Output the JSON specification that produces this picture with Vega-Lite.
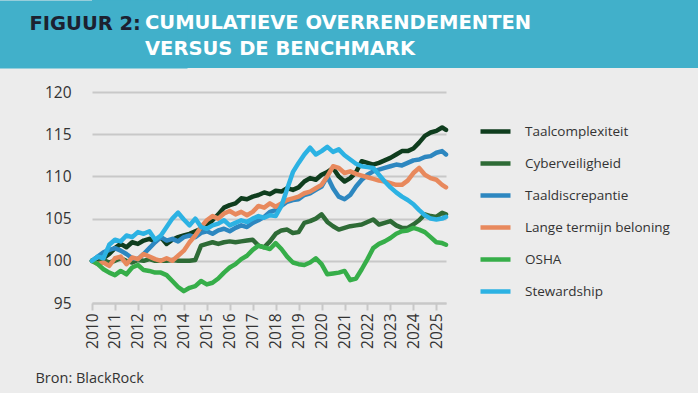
{
"$schema": "https://vega.github.io/schema/vega-lite/v6.json",
"background": "#ececec",
"padding": {"left": 0, "top": 0, "right": 0, "bottom": 8},
"spacing": 17,
"resolve": {"legend": {"color": "independent"}},
"config": {"view": {"stroke": null}},
"vconcat": [
{
"width": 606, "height": 68,
"view": {"fill": "#41b0ca", "stroke": null},
"data": {"values": []},
"mark": "point",
"encoding": {"y": {"field": "v", "type": "quantitative", "scale": {"domain": [0, 1]},
"axis": {"domainWidth": 190, "domainColor": "#41b0ca", "domainCap": "butt", "ticks": false, "labels": false, "grid": false,
"title": "FIGUUR 2:", "titleAngle": 0, "titleX": -63, "titleY": 29, "titleAlign": "left", "titleBaseline": "alphabetic", "titleColor": "#1c2130", "titleFont": "DejaVu Sans", "titleFontWeight": "bold", "titleFontSize": 19.5}}},
"title": {"text": ["CUMULATIEVE OVERRENDEMENTEN", "VERSUS DE BENCHMARK"], "orient": "bottom", "anchor": "start", "frame": "group", "offset": -39, "dx": 53, "baseline": "alphabetic", "lineHeight": 26, "color": "#ffffff", "font": "DejaVu Sans", "fontWeight": "bold", "fontSize": 19.5}
},
{
"width": 354, "height": 211,
"data": {"values": [
{"reeks":"Taalcomplexiteit","jaar":2010,"waarde":100.0},
{"reeks":"Taalcomplexiteit","jaar":2010.25,"waarde":99.8},
{"reeks":"Taalcomplexiteit","jaar":2010.5,"waarde":100.3},
{"reeks":"Taalcomplexiteit","jaar":2010.75,"waarde":100.8},
{"reeks":"Taalcomplexiteit","jaar":2011,"waarde":101.5},
{"reeks":"Taalcomplexiteit","jaar":2011.25,"waarde":102.0},
{"reeks":"Taalcomplexiteit","jaar":2011.5,"waarde":101.6},
{"reeks":"Taalcomplexiteit","jaar":2011.75,"waarde":102.2},
{"reeks":"Taalcomplexiteit","jaar":2012,"waarde":102.0},
{"reeks":"Taalcomplexiteit","jaar":2012.25,"waarde":102.4},
{"reeks":"Taalcomplexiteit","jaar":2012.5,"waarde":102.6},
{"reeks":"Taalcomplexiteit","jaar":2012.75,"waarde":102.3},
{"reeks":"Taalcomplexiteit","jaar":2013,"waarde":102.8},
{"reeks":"Taalcomplexiteit","jaar":2013.25,"waarde":102.0},
{"reeks":"Taalcomplexiteit","jaar":2013.5,"waarde":102.5},
{"reeks":"Taalcomplexiteit","jaar":2013.75,"waarde":102.8},
{"reeks":"Taalcomplexiteit","jaar":2014,"waarde":103.0},
{"reeks":"Taalcomplexiteit","jaar":2014.25,"waarde":103.2},
{"reeks":"Taalcomplexiteit","jaar":2014.5,"waarde":103.5},
{"reeks":"Taalcomplexiteit","jaar":2014.75,"waarde":103.8},
{"reeks":"Taalcomplexiteit","jaar":2015,"waarde":104.2},
{"reeks":"Taalcomplexiteit","jaar":2015.25,"waarde":104.8},
{"reeks":"Taalcomplexiteit","jaar":2015.5,"waarde":105.5},
{"reeks":"Taalcomplexiteit","jaar":2015.75,"waarde":106.3},
{"reeks":"Taalcomplexiteit","jaar":2016,"waarde":106.6},
{"reeks":"Taalcomplexiteit","jaar":2016.25,"waarde":106.8},
{"reeks":"Taalcomplexiteit","jaar":2016.5,"waarde":107.4},
{"reeks":"Taalcomplexiteit","jaar":2016.75,"waarde":107.3},
{"reeks":"Taalcomplexiteit","jaar":2017,"waarde":107.6},
{"reeks":"Taalcomplexiteit","jaar":2017.25,"waarde":107.8},
{"reeks":"Taalcomplexiteit","jaar":2017.5,"waarde":108.1},
{"reeks":"Taalcomplexiteit","jaar":2017.75,"waarde":107.9},
{"reeks":"Taalcomplexiteit","jaar":2018,"waarde":108.3},
{"reeks":"Taalcomplexiteit","jaar":2018.25,"waarde":108.2},
{"reeks":"Taalcomplexiteit","jaar":2018.5,"waarde":108.6},
{"reeks":"Taalcomplexiteit","jaar":2018.75,"waarde":108.4},
{"reeks":"Taalcomplexiteit","jaar":2019,"waarde":108.7},
{"reeks":"Taalcomplexiteit","jaar":2019.25,"waarde":109.4},
{"reeks":"Taalcomplexiteit","jaar":2019.5,"waarde":109.8},
{"reeks":"Taalcomplexiteit","jaar":2019.75,"waarde":109.6},
{"reeks":"Taalcomplexiteit","jaar":2020,"waarde":110.2},
{"reeks":"Taalcomplexiteit","jaar":2020.25,"waarde":110.5},
{"reeks":"Taalcomplexiteit","jaar":2020.5,"waarde":111.0},
{"reeks":"Taalcomplexiteit","jaar":2020.75,"waarde":110.0},
{"reeks":"Taalcomplexiteit","jaar":2021,"waarde":109.4},
{"reeks":"Taalcomplexiteit","jaar":2021.25,"waarde":109.8},
{"reeks":"Taalcomplexiteit","jaar":2021.5,"waarde":110.5},
{"reeks":"Taalcomplexiteit","jaar":2021.75,"waarde":111.8},
{"reeks":"Taalcomplexiteit","jaar":2022,"waarde":111.6},
{"reeks":"Taalcomplexiteit","jaar":2022.25,"waarde":111.4},
{"reeks":"Taalcomplexiteit","jaar":2022.5,"waarde":111.6},
{"reeks":"Taalcomplexiteit","jaar":2022.75,"waarde":111.9},
{"reeks":"Taalcomplexiteit","jaar":2023,"waarde":112.2},
{"reeks":"Taalcomplexiteit","jaar":2023.25,"waarde":112.6},
{"reeks":"Taalcomplexiteit","jaar":2023.5,"waarde":113.0},
{"reeks":"Taalcomplexiteit","jaar":2023.75,"waarde":113.0},
{"reeks":"Taalcomplexiteit","jaar":2024,"waarde":113.3},
{"reeks":"Taalcomplexiteit","jaar":2024.25,"waarde":114.0},
{"reeks":"Taalcomplexiteit","jaar":2024.5,"waarde":114.8},
{"reeks":"Taalcomplexiteit","jaar":2024.75,"waarde":115.2},
{"reeks":"Taalcomplexiteit","jaar":2025,"waarde":115.4},
{"reeks":"Taalcomplexiteit","jaar":2025.25,"waarde":115.8},
{"reeks":"Taalcomplexiteit","jaar":2025.42,"waarde":115.5},
{"reeks":"Cyberveiligheid","jaar":2010,"waarde":100.0},
{"reeks":"Cyberveiligheid","jaar":2010.25,"waarde":99.7},
{"reeks":"Cyberveiligheid","jaar":2010.5,"waarde":100.1},
{"reeks":"Cyberveiligheid","jaar":2010.75,"waarde":99.8},
{"reeks":"Cyberveiligheid","jaar":2011,"waarde":100.0},
{"reeks":"Cyberveiligheid","jaar":2011.25,"waarde":100.3},
{"reeks":"Cyberveiligheid","jaar":2011.5,"waarde":100.0},
{"reeks":"Cyberveiligheid","jaar":2011.75,"waarde":99.8},
{"reeks":"Cyberveiligheid","jaar":2012,"waarde":100.1},
{"reeks":"Cyberveiligheid","jaar":2012.25,"waarde":100.0},
{"reeks":"Cyberveiligheid","jaar":2012.5,"waarde":100.2},
{"reeks":"Cyberveiligheid","jaar":2012.75,"waarde":100.0},
{"reeks":"Cyberveiligheid","jaar":2013,"waarde":100.0},
{"reeks":"Cyberveiligheid","jaar":2013.25,"waarde":100.0},
{"reeks":"Cyberveiligheid","jaar":2013.5,"waarde":100.1},
{"reeks":"Cyberveiligheid","jaar":2013.75,"waarde":100.0},
{"reeks":"Cyberveiligheid","jaar":2014,"waarde":100.0},
{"reeks":"Cyberveiligheid","jaar":2014.25,"waarde":100.0},
{"reeks":"Cyberveiligheid","jaar":2014.5,"waarde":100.1},
{"reeks":"Cyberveiligheid","jaar":2014.75,"waarde":101.8},
{"reeks":"Cyberveiligheid","jaar":2015,"waarde":102.0},
{"reeks":"Cyberveiligheid","jaar":2015.25,"waarde":102.2},
{"reeks":"Cyberveiligheid","jaar":2015.5,"waarde":102.0},
{"reeks":"Cyberveiligheid","jaar":2015.75,"waarde":102.2},
{"reeks":"Cyberveiligheid","jaar":2016,"waarde":102.3},
{"reeks":"Cyberveiligheid","jaar":2016.25,"waarde":102.2},
{"reeks":"Cyberveiligheid","jaar":2016.5,"waarde":102.3},
{"reeks":"Cyberveiligheid","jaar":2016.75,"waarde":102.4},
{"reeks":"Cyberveiligheid","jaar":2017,"waarde":102.5},
{"reeks":"Cyberveiligheid","jaar":2017.25,"waarde":101.8},
{"reeks":"Cyberveiligheid","jaar":2017.5,"waarde":101.6},
{"reeks":"Cyberveiligheid","jaar":2017.75,"waarde":102.3},
{"reeks":"Cyberveiligheid","jaar":2018,"waarde":103.2},
{"reeks":"Cyberveiligheid","jaar":2018.25,"waarde":103.6},
{"reeks":"Cyberveiligheid","jaar":2018.5,"waarde":103.7},
{"reeks":"Cyberveiligheid","jaar":2018.75,"waarde":103.3},
{"reeks":"Cyberveiligheid","jaar":2019,"waarde":103.4},
{"reeks":"Cyberveiligheid","jaar":2019.25,"waarde":104.5},
{"reeks":"Cyberveiligheid","jaar":2019.5,"waarde":104.7},
{"reeks":"Cyberveiligheid","jaar":2019.75,"waarde":105.0},
{"reeks":"Cyberveiligheid","jaar":2020,"waarde":105.5},
{"reeks":"Cyberveiligheid","jaar":2020.25,"waarde":104.6},
{"reeks":"Cyberveiligheid","jaar":2020.5,"waarde":104.1},
{"reeks":"Cyberveiligheid","jaar":2020.75,"waarde":103.7},
{"reeks":"Cyberveiligheid","jaar":2021,"waarde":103.9},
{"reeks":"Cyberveiligheid","jaar":2021.25,"waarde":104.1},
{"reeks":"Cyberveiligheid","jaar":2021.5,"waarde":104.2},
{"reeks":"Cyberveiligheid","jaar":2021.75,"waarde":104.3},
{"reeks":"Cyberveiligheid","jaar":2022,"waarde":104.6},
{"reeks":"Cyberveiligheid","jaar":2022.25,"waarde":104.9},
{"reeks":"Cyberveiligheid","jaar":2022.5,"waarde":104.3},
{"reeks":"Cyberveiligheid","jaar":2022.75,"waarde":104.5},
{"reeks":"Cyberveiligheid","jaar":2023,"waarde":104.7},
{"reeks":"Cyberveiligheid","jaar":2023.25,"waarde":104.2},
{"reeks":"Cyberveiligheid","jaar":2023.5,"waarde":103.9},
{"reeks":"Cyberveiligheid","jaar":2023.75,"waarde":103.9},
{"reeks":"Cyberveiligheid","jaar":2024,"waarde":104.3},
{"reeks":"Cyberveiligheid","jaar":2024.25,"waarde":104.8},
{"reeks":"Cyberveiligheid","jaar":2024.5,"waarde":105.5},
{"reeks":"Cyberveiligheid","jaar":2024.75,"waarde":105.3},
{"reeks":"Cyberveiligheid","jaar":2025,"waarde":105.2},
{"reeks":"Cyberveiligheid","jaar":2025.25,"waarde":105.7},
{"reeks":"Cyberveiligheid","jaar":2025.42,"waarde":105.5},
{"reeks":"Taaldiscrepantie","jaar":2010,"waarde":100.0},
{"reeks":"Taaldiscrepantie","jaar":2010.25,"waarde":100.5},
{"reeks":"Taaldiscrepantie","jaar":2010.5,"waarde":101.0},
{"reeks":"Taaldiscrepantie","jaar":2010.75,"waarde":101.3},
{"reeks":"Taaldiscrepantie","jaar":2011,"waarde":101.5},
{"reeks":"Taaldiscrepantie","jaar":2011.25,"waarde":101.2},
{"reeks":"Taaldiscrepantie","jaar":2011.5,"waarde":100.8},
{"reeks":"Taaldiscrepantie","jaar":2011.75,"waarde":100.3},
{"reeks":"Taaldiscrepantie","jaar":2012,"waarde":100.2},
{"reeks":"Taaldiscrepantie","jaar":2012.25,"waarde":100.8},
{"reeks":"Taaldiscrepantie","jaar":2012.5,"waarde":101.5},
{"reeks":"Taaldiscrepantie","jaar":2012.75,"waarde":102.2},
{"reeks":"Taaldiscrepantie","jaar":2013,"waarde":102.8},
{"reeks":"Taaldiscrepantie","jaar":2013.25,"waarde":102.4},
{"reeks":"Taaldiscrepantie","jaar":2013.5,"waarde":102.6},
{"reeks":"Taaldiscrepantie","jaar":2013.75,"waarde":102.3},
{"reeks":"Taaldiscrepantie","jaar":2014,"waarde":102.8},
{"reeks":"Taaldiscrepantie","jaar":2014.25,"waarde":103.0},
{"reeks":"Taaldiscrepantie","jaar":2014.5,"waarde":102.8},
{"reeks":"Taaldiscrepantie","jaar":2014.75,"waarde":103.3},
{"reeks":"Taaldiscrepantie","jaar":2015,"waarde":103.5},
{"reeks":"Taaldiscrepantie","jaar":2015.25,"waarde":103.2},
{"reeks":"Taaldiscrepantie","jaar":2015.5,"waarde":103.6},
{"reeks":"Taaldiscrepantie","jaar":2015.75,"waarde":103.8},
{"reeks":"Taaldiscrepantie","jaar":2016,"waarde":103.5},
{"reeks":"Taaldiscrepantie","jaar":2016.25,"waarde":103.9},
{"reeks":"Taaldiscrepantie","jaar":2016.5,"waarde":104.2},
{"reeks":"Taaldiscrepantie","jaar":2016.75,"waarde":104.0},
{"reeks":"Taaldiscrepantie","jaar":2017,"waarde":104.5},
{"reeks":"Taaldiscrepantie","jaar":2017.25,"waarde":104.8},
{"reeks":"Taaldiscrepantie","jaar":2017.5,"waarde":105.2},
{"reeks":"Taaldiscrepantie","jaar":2017.75,"waarde":105.8},
{"reeks":"Taaldiscrepantie","jaar":2018,"waarde":106.0},
{"reeks":"Taaldiscrepantie","jaar":2018.25,"waarde":106.5},
{"reeks":"Taaldiscrepantie","jaar":2018.5,"waarde":107.0},
{"reeks":"Taaldiscrepantie","jaar":2018.75,"waarde":107.2},
{"reeks":"Taaldiscrepantie","jaar":2019,"waarde":107.3},
{"reeks":"Taaldiscrepantie","jaar":2019.25,"waarde":107.8},
{"reeks":"Taaldiscrepantie","jaar":2019.5,"waarde":108.0},
{"reeks":"Taaldiscrepantie","jaar":2019.75,"waarde":108.4},
{"reeks":"Taaldiscrepantie","jaar":2020,"waarde":108.8},
{"reeks":"Taaldiscrepantie","jaar":2020.25,"waarde":110.0},
{"reeks":"Taaldiscrepantie","jaar":2020.5,"waarde":108.6},
{"reeks":"Taaldiscrepantie","jaar":2020.75,"waarde":107.6},
{"reeks":"Taaldiscrepantie","jaar":2021,"waarde":107.3},
{"reeks":"Taaldiscrepantie","jaar":2021.25,"waarde":107.8},
{"reeks":"Taaldiscrepantie","jaar":2021.5,"waarde":108.8},
{"reeks":"Taaldiscrepantie","jaar":2021.75,"waarde":109.6},
{"reeks":"Taaldiscrepantie","jaar":2022,"waarde":110.2},
{"reeks":"Taaldiscrepantie","jaar":2022.25,"waarde":110.6},
{"reeks":"Taaldiscrepantie","jaar":2022.5,"waarde":110.8},
{"reeks":"Taaldiscrepantie","jaar":2022.75,"waarde":111.0},
{"reeks":"Taaldiscrepantie","jaar":2023,"waarde":111.2},
{"reeks":"Taaldiscrepantie","jaar":2023.25,"waarde":111.4},
{"reeks":"Taaldiscrepantie","jaar":2023.5,"waarde":111.3},
{"reeks":"Taaldiscrepantie","jaar":2023.75,"waarde":111.6},
{"reeks":"Taaldiscrepantie","jaar":2024,"waarde":111.9},
{"reeks":"Taaldiscrepantie","jaar":2024.25,"waarde":112.0},
{"reeks":"Taaldiscrepantie","jaar":2024.5,"waarde":112.3},
{"reeks":"Taaldiscrepantie","jaar":2024.75,"waarde":112.4},
{"reeks":"Taaldiscrepantie","jaar":2025,"waarde":112.8},
{"reeks":"Taaldiscrepantie","jaar":2025.25,"waarde":113.0},
{"reeks":"Taaldiscrepantie","jaar":2025.42,"waarde":112.6},
{"reeks":"Lange termijn beloning","jaar":2010,"waarde":100.0},
{"reeks":"Lange termijn beloning","jaar":2010.25,"waarde":99.6},
{"reeks":"Lange termijn beloning","jaar":2010.5,"waarde":99.8},
{"reeks":"Lange termijn beloning","jaar":2010.75,"waarde":99.4},
{"reeks":"Lange termijn beloning","jaar":2011,"waarde":100.3},
{"reeks":"Lange termijn beloning","jaar":2011.25,"waarde":100.5},
{"reeks":"Lange termijn beloning","jaar":2011.5,"waarde":99.6},
{"reeks":"Lange termijn beloning","jaar":2011.75,"waarde":100.4},
{"reeks":"Lange termijn beloning","jaar":2012,"waarde":100.2},
{"reeks":"Lange termijn beloning","jaar":2012.25,"waarde":100.8},
{"reeks":"Lange termijn beloning","jaar":2012.5,"waarde":100.5},
{"reeks":"Lange termijn beloning","jaar":2012.75,"waarde":100.2},
{"reeks":"Lange termijn beloning","jaar":2013,"waarde":100.0},
{"reeks":"Lange termijn beloning","jaar":2013.25,"waarde":100.3},
{"reeks":"Lange termijn beloning","jaar":2013.5,"waarde":100.0},
{"reeks":"Lange termijn beloning","jaar":2013.75,"waarde":100.6},
{"reeks":"Lange termijn beloning","jaar":2014,"waarde":101.2},
{"reeks":"Lange termijn beloning","jaar":2014.25,"waarde":102.2},
{"reeks":"Lange termijn beloning","jaar":2014.5,"waarde":103.0},
{"reeks":"Lange termijn beloning","jaar":2014.75,"waarde":104.0},
{"reeks":"Lange termijn beloning","jaar":2015,"waarde":104.8},
{"reeks":"Lange termijn beloning","jaar":2015.25,"waarde":105.3},
{"reeks":"Lange termijn beloning","jaar":2015.5,"waarde":105.0},
{"reeks":"Lange termijn beloning","jaar":2015.75,"waarde":105.6},
{"reeks":"Lange termijn beloning","jaar":2016,"waarde":105.9},
{"reeks":"Lange termijn beloning","jaar":2016.25,"waarde":105.5},
{"reeks":"Lange termijn beloning","jaar":2016.5,"waarde":105.8},
{"reeks":"Lange termijn beloning","jaar":2016.75,"waarde":105.4},
{"reeks":"Lange termijn beloning","jaar":2017,"waarde":105.8},
{"reeks":"Lange termijn beloning","jaar":2017.25,"waarde":106.5},
{"reeks":"Lange termijn beloning","jaar":2017.5,"waarde":106.3},
{"reeks":"Lange termijn beloning","jaar":2017.75,"waarde":106.8},
{"reeks":"Lange termijn beloning","jaar":2018,"waarde":106.4},
{"reeks":"Lange termijn beloning","jaar":2018.25,"waarde":106.8},
{"reeks":"Lange termijn beloning","jaar":2018.5,"waarde":107.2},
{"reeks":"Lange termijn beloning","jaar":2018.75,"waarde":107.4},
{"reeks":"Lange termijn beloning","jaar":2019,"waarde":107.6},
{"reeks":"Lange termijn beloning","jaar":2019.25,"waarde":108.0},
{"reeks":"Lange termijn beloning","jaar":2019.5,"waarde":108.2},
{"reeks":"Lange termijn beloning","jaar":2019.75,"waarde":108.6},
{"reeks":"Lange termijn beloning","jaar":2020,"waarde":109.0},
{"reeks":"Lange termijn beloning","jaar":2020.25,"waarde":110.0},
{"reeks":"Lange termijn beloning","jaar":2020.5,"waarde":111.2},
{"reeks":"Lange termijn beloning","jaar":2020.75,"waarde":111.0},
{"reeks":"Lange termijn beloning","jaar":2021,"waarde":110.4},
{"reeks":"Lange termijn beloning","jaar":2021.25,"waarde":110.6},
{"reeks":"Lange termijn beloning","jaar":2021.5,"waarde":110.3},
{"reeks":"Lange termijn beloning","jaar":2021.75,"waarde":110.1},
{"reeks":"Lange termijn beloning","jaar":2022,"waarde":109.9},
{"reeks":"Lange termijn beloning","jaar":2022.25,"waarde":109.7},
{"reeks":"Lange termijn beloning","jaar":2022.5,"waarde":109.5},
{"reeks":"Lange termijn beloning","jaar":2022.75,"waarde":109.4},
{"reeks":"Lange termijn beloning","jaar":2023,"waarde":109.2},
{"reeks":"Lange termijn beloning","jaar":2023.25,"waarde":109.0},
{"reeks":"Lange termijn beloning","jaar":2023.5,"waarde":109.0},
{"reeks":"Lange termijn beloning","jaar":2023.75,"waarde":109.5},
{"reeks":"Lange termijn beloning","jaar":2024,"waarde":110.4},
{"reeks":"Lange termijn beloning","jaar":2024.25,"waarde":111.0},
{"reeks":"Lange termijn beloning","jaar":2024.5,"waarde":110.2},
{"reeks":"Lange termijn beloning","jaar":2024.75,"waarde":109.8},
{"reeks":"Lange termijn beloning","jaar":2025,"waarde":109.6},
{"reeks":"Lange termijn beloning","jaar":2025.25,"waarde":109.0},
{"reeks":"Lange termijn beloning","jaar":2025.42,"waarde":108.7},
{"reeks":"OSHA","jaar":2010,"waarde":100.0},
{"reeks":"OSHA","jaar":2010.25,"waarde":99.6},
{"reeks":"OSHA","jaar":2010.5,"waarde":99.0},
{"reeks":"OSHA","jaar":2010.75,"waarde":98.6},
{"reeks":"OSHA","jaar":2011,"waarde":98.3},
{"reeks":"OSHA","jaar":2011.25,"waarde":98.8},
{"reeks":"OSHA","jaar":2011.5,"waarde":98.4},
{"reeks":"OSHA","jaar":2011.75,"waarde":99.2},
{"reeks":"OSHA","jaar":2012,"waarde":99.5},
{"reeks":"OSHA","jaar":2012.25,"waarde":98.9},
{"reeks":"OSHA","jaar":2012.5,"waarde":98.8},
{"reeks":"OSHA","jaar":2012.75,"waarde":98.6},
{"reeks":"OSHA","jaar":2013,"waarde":98.6},
{"reeks":"OSHA","jaar":2013.25,"waarde":98.3},
{"reeks":"OSHA","jaar":2013.5,"waarde":97.6},
{"reeks":"OSHA","jaar":2013.75,"waarde":96.9},
{"reeks":"OSHA","jaar":2014,"waarde":96.4},
{"reeks":"OSHA","jaar":2014.25,"waarde":96.8},
{"reeks":"OSHA","jaar":2014.5,"waarde":97.0},
{"reeks":"OSHA","jaar":2014.75,"waarde":97.6},
{"reeks":"OSHA","jaar":2015,"waarde":97.2},
{"reeks":"OSHA","jaar":2015.25,"waarde":97.4},
{"reeks":"OSHA","jaar":2015.5,"waarde":97.9},
{"reeks":"OSHA","jaar":2015.75,"waarde":98.6},
{"reeks":"OSHA","jaar":2016,"waarde":99.2},
{"reeks":"OSHA","jaar":2016.25,"waarde":99.6},
{"reeks":"OSHA","jaar":2016.5,"waarde":100.2},
{"reeks":"OSHA","jaar":2016.75,"waarde":100.6},
{"reeks":"OSHA","jaar":2017,"waarde":101.3},
{"reeks":"OSHA","jaar":2017.25,"waarde":101.8},
{"reeks":"OSHA","jaar":2017.5,"waarde":101.6},
{"reeks":"OSHA","jaar":2017.75,"waarde":101.4},
{"reeks":"OSHA","jaar":2018,"waarde":102.1},
{"reeks":"OSHA","jaar":2018.25,"waarde":101.4},
{"reeks":"OSHA","jaar":2018.5,"waarde":100.5},
{"reeks":"OSHA","jaar":2018.75,"waarde":99.8},
{"reeks":"OSHA","jaar":2019,"waarde":99.6},
{"reeks":"OSHA","jaar":2019.25,"waarde":99.5},
{"reeks":"OSHA","jaar":2019.5,"waarde":99.8},
{"reeks":"OSHA","jaar":2019.75,"waarde":100.3},
{"reeks":"OSHA","jaar":2020,"waarde":99.6},
{"reeks":"OSHA","jaar":2020.25,"waarde":98.4},
{"reeks":"OSHA","jaar":2020.5,"waarde":98.5},
{"reeks":"OSHA","jaar":2020.75,"waarde":98.6},
{"reeks":"OSHA","jaar":2021,"waarde":98.8},
{"reeks":"OSHA","jaar":2021.25,"waarde":97.7},
{"reeks":"OSHA","jaar":2021.5,"waarde":97.9},
{"reeks":"OSHA","jaar":2021.75,"waarde":99.0},
{"reeks":"OSHA","jaar":2022,"waarde":100.2},
{"reeks":"OSHA","jaar":2022.25,"waarde":101.5},
{"reeks":"OSHA","jaar":2022.5,"waarde":102.0},
{"reeks":"OSHA","jaar":2022.75,"waarde":102.3},
{"reeks":"OSHA","jaar":2023,"waarde":102.7},
{"reeks":"OSHA","jaar":2023.25,"waarde":103.2},
{"reeks":"OSHA","jaar":2023.5,"waarde":103.5},
{"reeks":"OSHA","jaar":2023.75,"waarde":103.6},
{"reeks":"OSHA","jaar":2024,"waarde":103.9},
{"reeks":"OSHA","jaar":2024.25,"waarde":103.7},
{"reeks":"OSHA","jaar":2024.5,"waarde":103.4},
{"reeks":"OSHA","jaar":2024.75,"waarde":102.8},
{"reeks":"OSHA","jaar":2025,"waarde":102.2},
{"reeks":"OSHA","jaar":2025.25,"waarde":102.1},
{"reeks":"OSHA","jaar":2025.42,"waarde":101.9},
{"reeks":"Stewardship","jaar":2010,"waarde":100.0},
{"reeks":"Stewardship","jaar":2010.25,"waarde":100.5},
{"reeks":"Stewardship","jaar":2010.5,"waarde":100.3},
{"reeks":"Stewardship","jaar":2010.75,"waarde":101.9},
{"reeks":"Stewardship","jaar":2011,"waarde":102.5},
{"reeks":"Stewardship","jaar":2011.25,"waarde":102.3},
{"reeks":"Stewardship","jaar":2011.5,"waarde":103.0},
{"reeks":"Stewardship","jaar":2011.75,"waarde":102.8},
{"reeks":"Stewardship","jaar":2012,"waarde":103.4},
{"reeks":"Stewardship","jaar":2012.25,"waarde":103.2},
{"reeks":"Stewardship","jaar":2012.5,"waarde":103.5},
{"reeks":"Stewardship","jaar":2012.75,"waarde":102.5},
{"reeks":"Stewardship","jaar":2013,"waarde":103.0},
{"reeks":"Stewardship","jaar":2013.25,"waarde":104.0},
{"reeks":"Stewardship","jaar":2013.5,"waarde":105.0},
{"reeks":"Stewardship","jaar":2013.75,"waarde":105.7},
{"reeks":"Stewardship","jaar":2014,"waarde":104.9},
{"reeks":"Stewardship","jaar":2014.25,"waarde":104.2},
{"reeks":"Stewardship","jaar":2014.5,"waarde":105.0},
{"reeks":"Stewardship","jaar":2014.75,"waarde":104.0},
{"reeks":"Stewardship","jaar":2015,"waarde":103.8},
{"reeks":"Stewardship","jaar":2015.25,"waarde":104.2},
{"reeks":"Stewardship","jaar":2015.5,"waarde":104.4},
{"reeks":"Stewardship","jaar":2015.75,"waarde":104.8},
{"reeks":"Stewardship","jaar":2016,"waarde":104.2},
{"reeks":"Stewardship","jaar":2016.25,"waarde":104.5},
{"reeks":"Stewardship","jaar":2016.5,"waarde":104.8},
{"reeks":"Stewardship","jaar":2016.75,"waarde":104.6},
{"reeks":"Stewardship","jaar":2017,"waarde":105.0},
{"reeks":"Stewardship","jaar":2017.25,"waarde":105.3},
{"reeks":"Stewardship","jaar":2017.5,"waarde":105.1},
{"reeks":"Stewardship","jaar":2017.75,"waarde":105.4},
{"reeks":"Stewardship","jaar":2018,"waarde":105.3},
{"reeks":"Stewardship","jaar":2018.25,"waarde":106.5},
{"reeks":"Stewardship","jaar":2018.5,"waarde":108.5},
{"reeks":"Stewardship","jaar":2018.75,"waarde":110.5},
{"reeks":"Stewardship","jaar":2019,"waarde":111.6},
{"reeks":"Stewardship","jaar":2019.25,"waarde":112.6},
{"reeks":"Stewardship","jaar":2019.5,"waarde":113.4},
{"reeks":"Stewardship","jaar":2019.75,"waarde":112.6},
{"reeks":"Stewardship","jaar":2020,"waarde":113.0},
{"reeks":"Stewardship","jaar":2020.25,"waarde":113.5},
{"reeks":"Stewardship","jaar":2020.5,"waarde":112.9},
{"reeks":"Stewardship","jaar":2020.75,"waarde":113.2},
{"reeks":"Stewardship","jaar":2021,"waarde":112.5},
{"reeks":"Stewardship","jaar":2021.25,"waarde":112.0},
{"reeks":"Stewardship","jaar":2021.5,"waarde":111.5},
{"reeks":"Stewardship","jaar":2021.75,"waarde":111.2},
{"reeks":"Stewardship","jaar":2022,"waarde":111.1},
{"reeks":"Stewardship","jaar":2022.25,"waarde":111.0},
{"reeks":"Stewardship","jaar":2022.5,"waarde":110.2},
{"reeks":"Stewardship","jaar":2022.75,"waarde":109.4},
{"reeks":"Stewardship","jaar":2023,"waarde":108.7},
{"reeks":"Stewardship","jaar":2023.25,"waarde":108.1},
{"reeks":"Stewardship","jaar":2023.5,"waarde":107.6},
{"reeks":"Stewardship","jaar":2023.75,"waarde":107.2},
{"reeks":"Stewardship","jaar":2024,"waarde":106.7},
{"reeks":"Stewardship","jaar":2024.25,"waarde":106.0},
{"reeks":"Stewardship","jaar":2024.5,"waarde":105.4},
{"reeks":"Stewardship","jaar":2024.75,"waarde":105.0},
{"reeks":"Stewardship","jaar":2025,"waarde":104.9},
{"reeks":"Stewardship","jaar":2025.25,"waarde":105.0},
{"reeks":"Stewardship","jaar":2025.42,"waarde":105.2}
]},
"mark": {"type": "line", "strokeWidth": 4.5, "strokeJoin": "round", "strokeCap": "round"},
"encoding": {
"x": {"field": "jaar", "type": "quantitative",
"scale": {"domain": [2010, 2025.42], "nice": false, "zero": false},
"axis": {"values": [2010,2011,2012,2013,2014,2015,2016,2017,2018,2019,2020,2021,2022,2023,2024,2025], "format": "d", "labelAngle": 270, "labelFontSize": 15.5, "labelFont": "Open Sans", "labelColor": "#333333", "labelPadding": 3, "labelFlush": false, "labelOverlap": false, "domainColor": "#c8c8c8", "domainWidth": 2, "tickColor": "#c8c8c8", "tickWidth": 2, "tickSize": 7, "grid": false,
"title": "Bron: BlackRock", "titleX": -57, "titleY": 75, "titleAlign": "left", "titleAnchor": "start", "titleBaseline": "middle", "titleFont": "Open Sans", "titleFontSize": 14.5, "titleFontWeight": "normal", "titleColor": "#333333"}},
"y": {"field": "waarde", "type": "quantitative",
"scale": {"domain": [95, 120], "nice": false, "zero": false},
"axis": {"values": [95,100,105,110,115,120], "labelFontSize": 15.5, "labelFont": "Open Sans", "labelColor": "#333333", "labelPadding": 21, "labelFlush": false, "ticks": false, "tickSize": 0, "domain": false, "grid": true, "gridColor": "#c8c8c8", "gridWidth": 2,
"title": " ", "titleAngle": 0, "titleX": -92, "titleY": 0, "titleAlign": "left", "titleFontSize": 2}},
"color": {"field": "reeks", "type": "nominal",
"scale": {"domain": ["Taalcomplexiteit", "Cyberveiligheid", "Taaldiscrepantie", "Lange termijn beloning", "OSHA", "Stewardship"], "range": ["#0f3d1e", "#2e6b36", "#2d87c0", "#e8895d", "#36ae49", "#2cb2e3"]},
"legend": {"orient": "none", "legendX": 386, "legendY": 22, "title": null, "symbolType": "stroke", "symbolSize": 900, "symbolStrokeWidth": 4.5, "labelFontSize": 13.5, "labelFont": "Open Sans", "labelColor": "#333333", "labelOffset": 12, "rowPadding": 5, "padding": 0}}
}
}
]
}
